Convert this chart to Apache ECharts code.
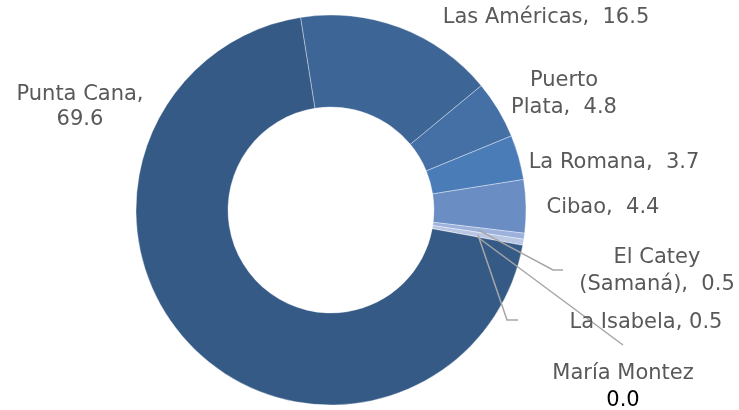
<!DOCTYPE html>
<html>
<head>
<meta charset="utf-8">
<script src="https://cdn.jsdelivr.net/npm/echarts@6/dist/echarts.min.js"></script>
<style>html,body{margin:0;padding:0;background:#fff}#c{width:739px;height:410px}</style>
</head>
<body>
<div id="c"></div>
<script>
// Data (clockwise from the top)
var categories = ['Las Américas', 'Puerto Plata', 'La Romana', 'Cibao', 'El Catey (Samaná)', 'La Isabela', 'María Montez', 'Punta Cana'];
var values = [16.5, 4.8, 3.7, 4.4, 0.5, 0.5, 0.0, 69.6];
var labelTexts = ['Las Américas,  16.5', 'Puerto\nPlata,  4.8', 'La Romana,  3.7', 'Cibao,  4.4', 'El Catey\n(Samaná),  0.5', 'La Isabela, 0.5', 'María Montez\n{b|0.0}', 'Punta Cana,\n69.6'];
var colors = ['#3D6596', '#4470A6', '#4A7CB8', '#6A8DC3', '#9CB1DB', '#B9C6E4', '#C8D3EA', '#355A86'];

// label layout (label box centers) and leader line bends
var labelPos = [[546, 18], [564, 94], [614, 163], [603, 208], [657, 271], [646, 323], [623, 387], [80, 107]];
var leaderBend = [null, null, null, null, [[553, 270], [563, 270]], [[507, 320], [518, 320]], [[623, 345]], null];

var FONT = '"DejaVu Sans", sans-serif';
var chart = echarts.init(document.getElementById('c'));

function items(transparent) {
  return categories.map(function (n, i) {
    var it = { name: n, value: values[i], itemStyle: { color: transparent ? 'rgba(0,0,0,0)' : colors[i] } };
    if (n === 'Punta Cana') it.label = { lineHeight: 25 };
    return it;
  });
}

chart.setOption({
  animation: false,
  series: [{
    type: 'pie',
    z: 2,
    silent: true,
    center: [331, 210],
    radius: [103, 195],
    startAngle: 99,
    clockwise: true,
    itemStyle: { borderColor: 'rgba(255,255,255,0.6)', borderWidth: 0.6 },
    data: items(false),
    label: { show: false },
    labelLine: { show: false }
  }, {
    type: 'pie',
    z: 5,
    silent: true,
    center: [331, 210],
    radius: [103, 195],
    startAngle: 99,
    clockwise: true,
    avoidLabelOverlap: false,
    itemStyle: { borderWidth: 0 },
    data: items(true),
    label: {
      show: true,
      position: 'outside',
      fontFamily: FONT,
      fontSize: 21,
      color: '#595959',
      lineHeight: 27,
      align: 'center',
      formatter: function (p) { return labelTexts[p.dataIndex]; },
      rich: { b: { color: '#000', fontSize: 21, fontFamily: FONT, lineHeight: 27 } }
    },
    labelLine: { show: true, length: 10, length2: 10, lineStyle: { color: '#A6A6A6', width: 1.5 } },
    labelLayout: function (p) {
      var i = p.dataIndex;
      var pos = labelPos[i];
      var res = { x: pos[0], y: pos[1], align: 'center', verticalAlign: 'middle' };
      var lay = chart.getModel().getSeriesByIndex(1).getData().getItemLayout(i);
      if (leaderBend[i] && lay) {
        var mid = (lay.startAngle + lay.endAngle) / 2;
        var rm = (lay.r + lay.r0) / 2;
        var start = [lay.cx + rm * Math.cos(mid), lay.cy + rm * Math.sin(mid)];
        res.labelLinePoints = [start].concat(leaderBend[i]);
      } else {
        res.labelLinePoints = [[0, 0], [0, 0], [0, 0]];
      }
      return res;
    }
  }]
});
</script>
</body>
</html>
